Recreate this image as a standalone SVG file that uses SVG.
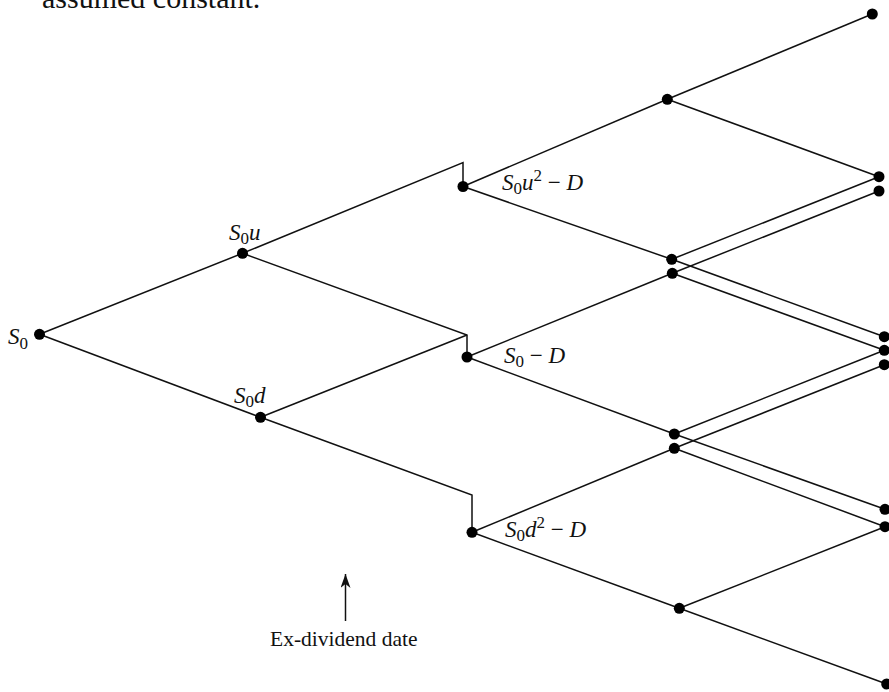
<svg xmlns="http://www.w3.org/2000/svg" width="889" height="692" viewBox="0 0 889 692">
<style>
.ln{stroke:#111;stroke-width:1.5;fill:none}
.dot{fill:#000}
.m{font-family:"Liberation Serif","Times New Roman",serif;font-style:italic;font-size:23px;fill:#111}
.sub{font-size:17px;font-style:normal}
.sup{font-size:17px;font-style:normal}
.op{font-style:normal}
.t{font-family:"Liberation Serif","Times New Roman",serif;font-size:21.5px;fill:#111}
</style>
<defs>
<marker id="ah" viewBox="0 0 10 14" refX="5" refY="0" markerWidth="10" markerHeight="14" orient="0" markerUnits="userSpaceOnUse">
<path d="M5,0 L10,14 L5,10 L0,14 Z" fill="#111"/>
</marker>
</defs>
<text class="t" x="42" y="8" style="font-size:30px">assumed constant.</text>
<g id="connectors">
<path class="ln" d="M39.5,334.3 L242.5,253.3"/>
<path class="ln" d="M39.5,334.3 L260.5,417.3"/>
<path class="ln" d="M242.5,253.3 L463,162.5 L463,186.5"/>
<path class="ln" d="M242.5,253.3 L467,335 L467,357"/>
<path class="ln" d="M260.5,417.3 L467,335"/>
<path class="ln" d="M260.5,417.3 L472,495 L472,532.3"/>
<path class="ln" d="M463,186.5 L667.3,99.3"/>
<path class="ln" d="M463,186.5 L671.7,259.3"/>
<path class="ln" d="M667.3,99.3 L872.3,14"/>
<path class="ln" d="M667.3,99.3 L879,176.7"/>
<path class="ln" d="M671.7,259.3 L879,176.7"/>
<path class="ln" d="M671.7,259.3 L884.3,336.7"/>
<path class="ln" d="M467,357 L672.3,273.3"/>
<path class="ln" d="M467,357 L674.3,434"/>
<path class="ln" d="M672.3,273.3 L879,191"/>
<path class="ln" d="M672.3,273.3 L884.3,350.3"/>
<path class="ln" d="M674.3,434 L884.3,350.3"/>
<path class="ln" d="M674.3,434 L885,509.3"/>
<path class="ln" d="M472,532.3 L674.3,448.3"/>
<path class="ln" d="M472,532.3 L679.3,608.3"/>
<path class="ln" d="M674.3,448.3 L884.3,364.7"/>
<path class="ln" d="M674.3,448.3 L885,526.7"/>
<path class="ln" d="M679.3,608.3 L885,526.7"/>
<path class="ln" d="M679.3,608.3 L886.7,684"/>
<path class="ln" d="M345.5,621 L345.5,574" marker-end="url(#ah)"/>
</g>
<g id="n-S0"><circle class="dot" cx="39.5" cy="334.3" r="5.5"/><text class="m" x="8" y="344">S<tspan class="sub" dy="5">0</tspan></text></g>
<g id="n-S0u"><circle class="dot" cx="242.5" cy="253.3" r="5.5"/><text class="m" x="229" y="240">S<tspan class="sub" dy="4">0</tspan><tspan dy="-4">u</tspan></text></g>
<g id="n-S0d"><circle class="dot" cx="260.5" cy="417.3" r="5.5"/><text class="m" x="234" y="403">S<tspan class="sub" dy="4">0</tspan><tspan dy="-4">d</tspan></text></g>
<g id="n-A"><circle class="dot" cx="463" cy="186.5" r="5.5"/><text class="m" x="502" y="190">S<tspan class="sub" dy="4">0</tspan><tspan dy="-4">u</tspan><tspan class="sup" dy="-9">2</tspan><tspan class="op" dy="9"> − </tspan>D</text></g>
<g id="n-B"><circle class="dot" cx="467" cy="357" r="5.5"/><text class="m" x="504" y="363">S<tspan class="sub" dy="4">0</tspan><tspan class="op" dy="-4"> − </tspan>D</text></g>
<g id="n-C"><circle class="dot" cx="472" cy="532.3" r="5.5"/><text class="m" x="505" y="537">S<tspan class="sub" dy="4">0</tspan><tspan dy="-4">d</tspan><tspan class="sup" dy="-9">2</tspan><tspan class="op" dy="9"> − </tspan>D</text></g>
<g id="n-Au"><circle class="dot" cx="667.3" cy="99.3" r="5.5"/></g>
<g id="n-Ad"><circle class="dot" cx="671.7" cy="259.3" r="5.5"/></g>
<g id="n-Bu"><circle class="dot" cx="672.3" cy="273.3" r="5.5"/></g>
<g id="n-Bd"><circle class="dot" cx="674.3" cy="434" r="5.5"/></g>
<g id="n-Cu"><circle class="dot" cx="674.3" cy="448.3" r="5.5"/></g>
<g id="n-Cd"><circle class="dot" cx="679.3" cy="608.3" r="5.5"/></g>
<g id="n-Auu"><circle class="dot" cx="872.3" cy="14" r="5.5"/></g>
<g id="n-Aud"><circle class="dot" cx="879" cy="176.7" r="5.5"/></g>
<g id="n-Add"><circle class="dot" cx="884.3" cy="336.7" r="5.5"/></g>
<g id="n-Buu"><circle class="dot" cx="879" cy="191" r="5.5"/></g>
<g id="n-Bud"><circle class="dot" cx="884.3" cy="350.3" r="5.5"/></g>
<g id="n-Bdd"><circle class="dot" cx="885" cy="509.3" r="5.5"/></g>
<g id="n-Cuu"><circle class="dot" cx="884.3" cy="364.7" r="5.5"/></g>
<g id="n-Cud"><circle class="dot" cx="885" cy="526.7" r="5.5"/></g>
<g id="n-Cdd"><circle class="dot" cx="886.7" cy="684" r="5.5"/></g>
<g id="label-exdiv"><text class="t" x="270" y="646">Ex-dividend date</text></g>
</svg>
